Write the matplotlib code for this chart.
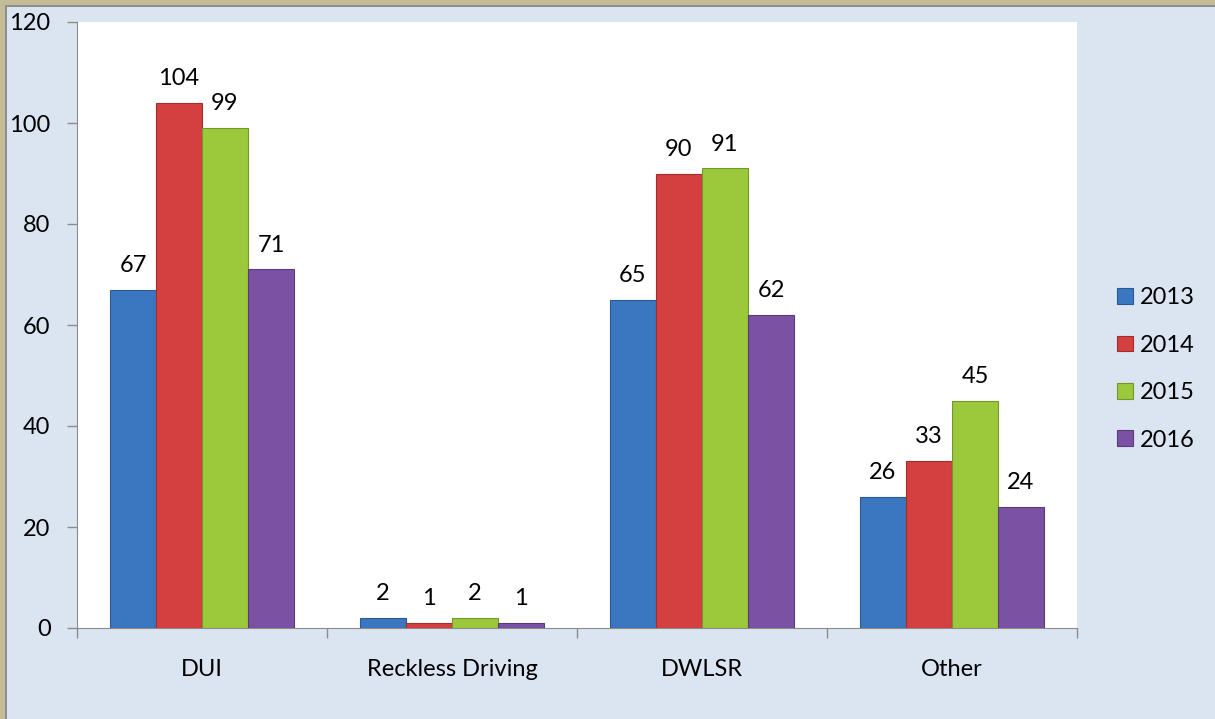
import numpy as np
import matplotlib.pyplot as plt
from matplotlib.patches import Rectangle

categories = ["DUI", "Reckless Driving", "DWLSR", "Other"]
years = ["2013", "2014", "2015", "2016"]
v2013 = [67, 2, 65, 26]
v2014 = [104, 1, 90, 33]
v2015 = [99, 2, 91, 45]
v2016 = [71, 1, 62, 24]

series = [v2013, v2014, v2015, v2016]
colors = ["#3b77c0", "#d43f3f", "#9cc83c", "#7b52a3"]
edges = ["#2a5a93", "#a32d2d", "#74962a", "#5a3b7a"]

plt.rcParams['font.family'] = ['Lato', 'DejaVu Sans']
FS = 17

fig = plt.figure(figsize=(12.15, 7.19), dpi=100)
fig.patch.set_facecolor("#dbe5f1")
W, H = 1215, 719
# frame on top and left only, like the cropped screenshot
fig.patches.append(Rectangle((0, 0), 5 / W, 1, transform=fig.transFigure,
                             facecolor="#c4bc97", edgecolor="none"))
fig.patches.append(Rectangle((0, 1 - 5 / H), 1, 5 / H, transform=fig.transFigure,
                             facecolor="#c4bc97", edgecolor="none"))
fig.patches.append(Rectangle((5 / W, 0), 1.5 / W, 1 - 5 / H, transform=fig.transFigure,
                             facecolor="#8f8f8f", edgecolor="none"))
fig.patches.append(Rectangle((5 / W, 1 - 6.5 / H), 1, 1.5 / H, transform=fig.transFigure,
                             facecolor="#8f8f8f", edgecolor="none"))

ax = fig.add_axes([77 / W, 1 - 628 / H, 1000 / W, 606 / H])
ax.set_facecolor("white")

x = np.arange(len(categories))
w = 0.184
for i, vals in enumerate(series):
    pos = x + (i - 1.5) * w
    bars = ax.bar(pos, vals, w, color=colors[i], edgecolor=edges[i],
                  linewidth=0.8, label=years[i], zorder=3)
    for b, v in zip(bars, vals):
        ax.annotate(str(v), (b.get_x() + b.get_width() / 2, v),
                    xytext=(0, 10), textcoords="offset points",
                    ha="center", va="bottom", fontsize=FS)

ax.set_xlim(-0.5, len(categories) - 0.5)
ax.set_ylim(0, 120)
ax.set_yticks(range(0, 121, 20))
ax.set_xticks(x)
ax.set_xticklabels(categories)
ax.set_xticks(np.arange(-0.5, len(categories)), minor=True)
ax.tick_params(axis="x", which="major", length=0, pad=22, labelsize=FS)
ax.tick_params(axis="x", which="minor", length=7, color="#8c8c8c", width=1)
ax.tick_params(axis="y", length=7, color="#8c8c8c", width=1, labelsize=FS, pad=12)

for s in ["top", "right"]:
    ax.spines[s].set_visible(False)
for s in ["left", "bottom"]:
    ax.spines[s].set_color("#8c8c8c")

leg = fig.legend(loc="center left", bbox_to_anchor=(1096 / W, 1 - 369 / H),
                 frameon=False, fontsize=FS, handlelength=0.65, handleheight=0.65,
                 handletextpad=0.3, labelspacing=1.12)

fig.savefig("out.png", dpi=100, facecolor=fig.get_facecolor())
